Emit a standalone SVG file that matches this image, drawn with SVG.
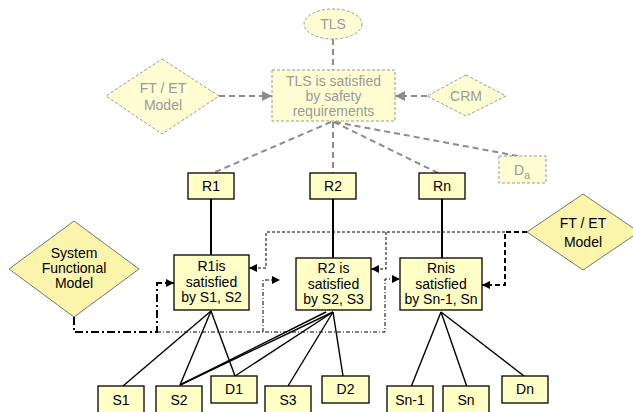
<svg xmlns="http://www.w3.org/2000/svg" width="633" height="412" viewBox="0 0 633 412">
  <style>
    text { font-family: "Liberation Sans", Arial, sans-serif; font-size: 14px; text-anchor: middle; fill: #000; }
    .faded { fill: #fefed2; stroke: #9a9a9a; stroke-width: 1; stroke-dasharray: 3 2; }
    .faded-t { fill: #9a9a9a; }
    .box { fill: #ffffc6; stroke: #000; stroke-width: 1.3; }
    .dia { fill: #fbf5ac; stroke: #777; stroke-width: 1; }
    .gray-dash { fill: none; stroke: #8c8c8c; stroke-width: 2; stroke-dasharray: 6 4; }
    .solid { fill: none; stroke: #000; stroke-width: 2; }
    .thin { fill: none; stroke: #000; stroke-width: 1.4; }
    .dash-thin { fill: none; stroke: #000; stroke-width: 1; stroke-dasharray: 3 2; }
    .dash-thick { fill: none; stroke: #000; stroke-width: 2; stroke-dasharray: 5 3; }
    .dashdot-thick { fill: none; stroke: #000; stroke-width: 2; stroke-dasharray: 8 3 2 3; }
    .dashdot-thin { fill: none; stroke: #000; stroke-width: 1; stroke-dasharray: 4 2 1 2; }
  </style>
  <defs>
    <marker id="arrowGray" viewBox="0 0 10 10" refX="10" refY="5" markerWidth="10" markerHeight="10" markerUnits="userSpaceOnUse" orient="auto">
      <path d="M0,0 L10,5 L0,10 Z" fill="#8c8c8c"/>
    </marker>
    <marker id="arrowBlack" viewBox="0 0 10 10" refX="10" refY="5" markerWidth="8" markerHeight="8" markerUnits="userSpaceOnUse" orient="auto">
      <path d="M0,0 L10,5 L0,10 Z" fill="#000"/>
    </marker>
  </defs>

  <!-- connectors -->
  <g id="connectors">
    <!-- upper (dashed gray) level -->
    <path class="gray-dash" d="M333,39 V70"/>
    <path class="gray-dash" d="M219,96 H272" marker-end="url(#arrowGray)"/>
    <path class="gray-dash" d="M427,96 H395" marker-end="url(#arrowGray)"/>
    <path class="gray-dash" d="M331,122 L213,173"/>
    <path class="gray-dash" d="M333,122 V173"/>
    <path class="gray-dash" d="M334,122 L438,173"/>
    <path class="gray-dash" d="M335,122 L518,156"/>

    <!-- requirement to claim -->
    <path class="solid" d="M211,199 V255"/>
    <path class="solid" d="M333,199 V258"/>
    <path class="solid" d="M442,199 V258"/>

    <!-- claims to evidence -->
    <path class="thin" d="M211,311 L123,386"/>
    <path class="thin" d="M211,311 L180,385"/>
    <path class="thin" d="M211,311 L235,376"/>
    <path class="thin" d="M333,312 L180,385"/>
    <path class="thin" d="M326,312 L180,385"/>
    <path class="thin" d="M333,312 L235,376"/>
    <path class="thin" d="M333,312 L288,386"/>
    <path class="thin" d="M333,312 L343,376"/>
    <path class="thin" d="M441,312 L411,387"/>
    <path class="thin" d="M441,312 L467,387"/>
    <path class="thin" d="M441,312 L524,376"/>

    <!-- FT / ET model feeds -->
    <path class="dash-thick" d="M527,232 H505 V285 H482" marker-end="url(#arrowBlack)"/>
    <path class="dash-thin" d="M505,232 H266 V268 H249" marker-end="url(#arrowBlack)"/>
    <path class="dash-thin" d="M386,232 V269 H371" marker-end="url(#arrowBlack)"/>

    <!-- system functional model feeds -->
    <path class="dashdot-thick" d="M74,317 V332 H157 V283 H174" marker-end="url(#arrowBlack)"/>
    <path class="dashdot-thin" d="M157,332 H385 V279 H400" marker-end="url(#arrowBlack)"/>
    <path class="dashdot-thin" d="M263,332 V280 H280" marker-end="url(#arrowBlack)"/>
  </g>

  <!-- upper level nodes -->
  <g id="tls">
    <ellipse class="faded" cx="333" cy="24" rx="29" ry="15"/>
    <text class="faded-t" x="333" y="29">TLS</text>
  </g>
  <g id="tls-claim">
    <rect class="faded" x="272" y="70" width="123" height="51"/>
    <text class="faded-t" x="333.5" y="86">TLS is satisfied</text>
    <text class="faded-t" x="333.5" y="101">by safety</text>
    <text class="faded-t" x="333.5" y="116">requirements</text>
  </g>
  <g id="ftet-top">
    <polygon class="faded" points="162,59 219,96 162,134 106,96"/>
    <text class="faded-t" x="163" y="93">FT / ET</text>
    <text class="faded-t" x="163" y="110">Model</text>
  </g>
  <g id="crm">
    <polygon class="faded" points="466,75 506,96 466,116 427,96"/>
    <text class="faded-t" x="466" y="101">CRM</text>
  </g>
  <g id="da">
    <rect class="faded" x="499" y="156" width="47" height="27"/>
    <text class="faded-t" x="522" y="175" font-size="17">D<tspan font-size="11" dy="4">a</tspan></text>
  </g>

  <!-- requirements -->
  <g id="r1">
    <rect class="box" x="188" y="173" width="46" height="26"/>
    <text x="211" y="191">R1</text>
  </g>
  <g id="r2">
    <rect class="box" x="310" y="173" width="46" height="26"/>
    <text x="333" y="191">R2</text>
  </g>
  <g id="rn">
    <rect class="box" x="419" y="173" width="46" height="26"/>
    <text x="442" y="191">Rn</text>
  </g>

  <!-- claims -->
  <g id="r1-claim">
    <rect class="box" x="174" y="255" width="75" height="55"/>
    <text x="211.5" y="271">R1is</text>
    <text x="211.5" y="287">satisfied</text>
    <text x="211.5" y="302">by S1, S2</text>
  </g>
  <g id="r2-claim">
    <rect class="box" x="296" y="258" width="75" height="52"/>
    <text x="333.5" y="273">R2 is</text>
    <text x="333.5" y="289">satisfied</text>
    <text x="333.5" y="304">by S2, S3</text>
  </g>
  <g id="rn-claim">
    <rect class="box" x="400" y="258" width="82" height="52"/>
    <text x="441" y="273">Rnis</text>
    <text x="441" y="289">satisfied</text>
    <text x="441" y="304">by Sn-1, Sn</text>
  </g>

  <!-- models -->
  <g id="system-functional-model">
    <polygon class="dia" points="74,221 139,269 74,317 9,269"/>
    <text x="74" y="258" font-size="12">System</text>
    <text x="74" y="273" font-size="12">Functional</text>
    <text x="74" y="288" font-size="12">Model</text>
  </g>
  <g id="ftet-model">
    <polygon class="dia" points="583,194 639,232 583,270 527,232"/>
    <text x="583" y="228">FT / ET</text>
    <text x="583" y="247">Model</text>
  </g>

  <!-- evidence -->
  <g id="s1"><rect class="box" x="98" y="386" width="46" height="28"/><text x="121" y="405">S1</text></g>
  <g id="s2"><rect class="box" x="156" y="386" width="46" height="28"/><text x="179" y="405">S2</text></g>
  <g id="d1"><rect class="box" x="211" y="376" width="46" height="27"/><text x="234" y="394">D1</text></g>
  <g id="s3"><rect class="box" x="265" y="386" width="46" height="28"/><text x="288" y="405">S3</text></g>
  <g id="d2"><rect class="box" x="322" y="376" width="47" height="27"/><text x="345.5" y="394">D2</text></g>
  <g id="sn-1"><rect class="box" x="387" y="386" width="46" height="28"/><text x="410" y="405">Sn-1</text></g>
  <g id="sn"><rect class="box" x="443" y="386" width="46" height="28"/><text x="466" y="405">Sn</text></g>
  <g id="dn"><rect class="box" x="502" y="376" width="46" height="27"/><text x="525" y="394">Dn</text></g>
</svg>
